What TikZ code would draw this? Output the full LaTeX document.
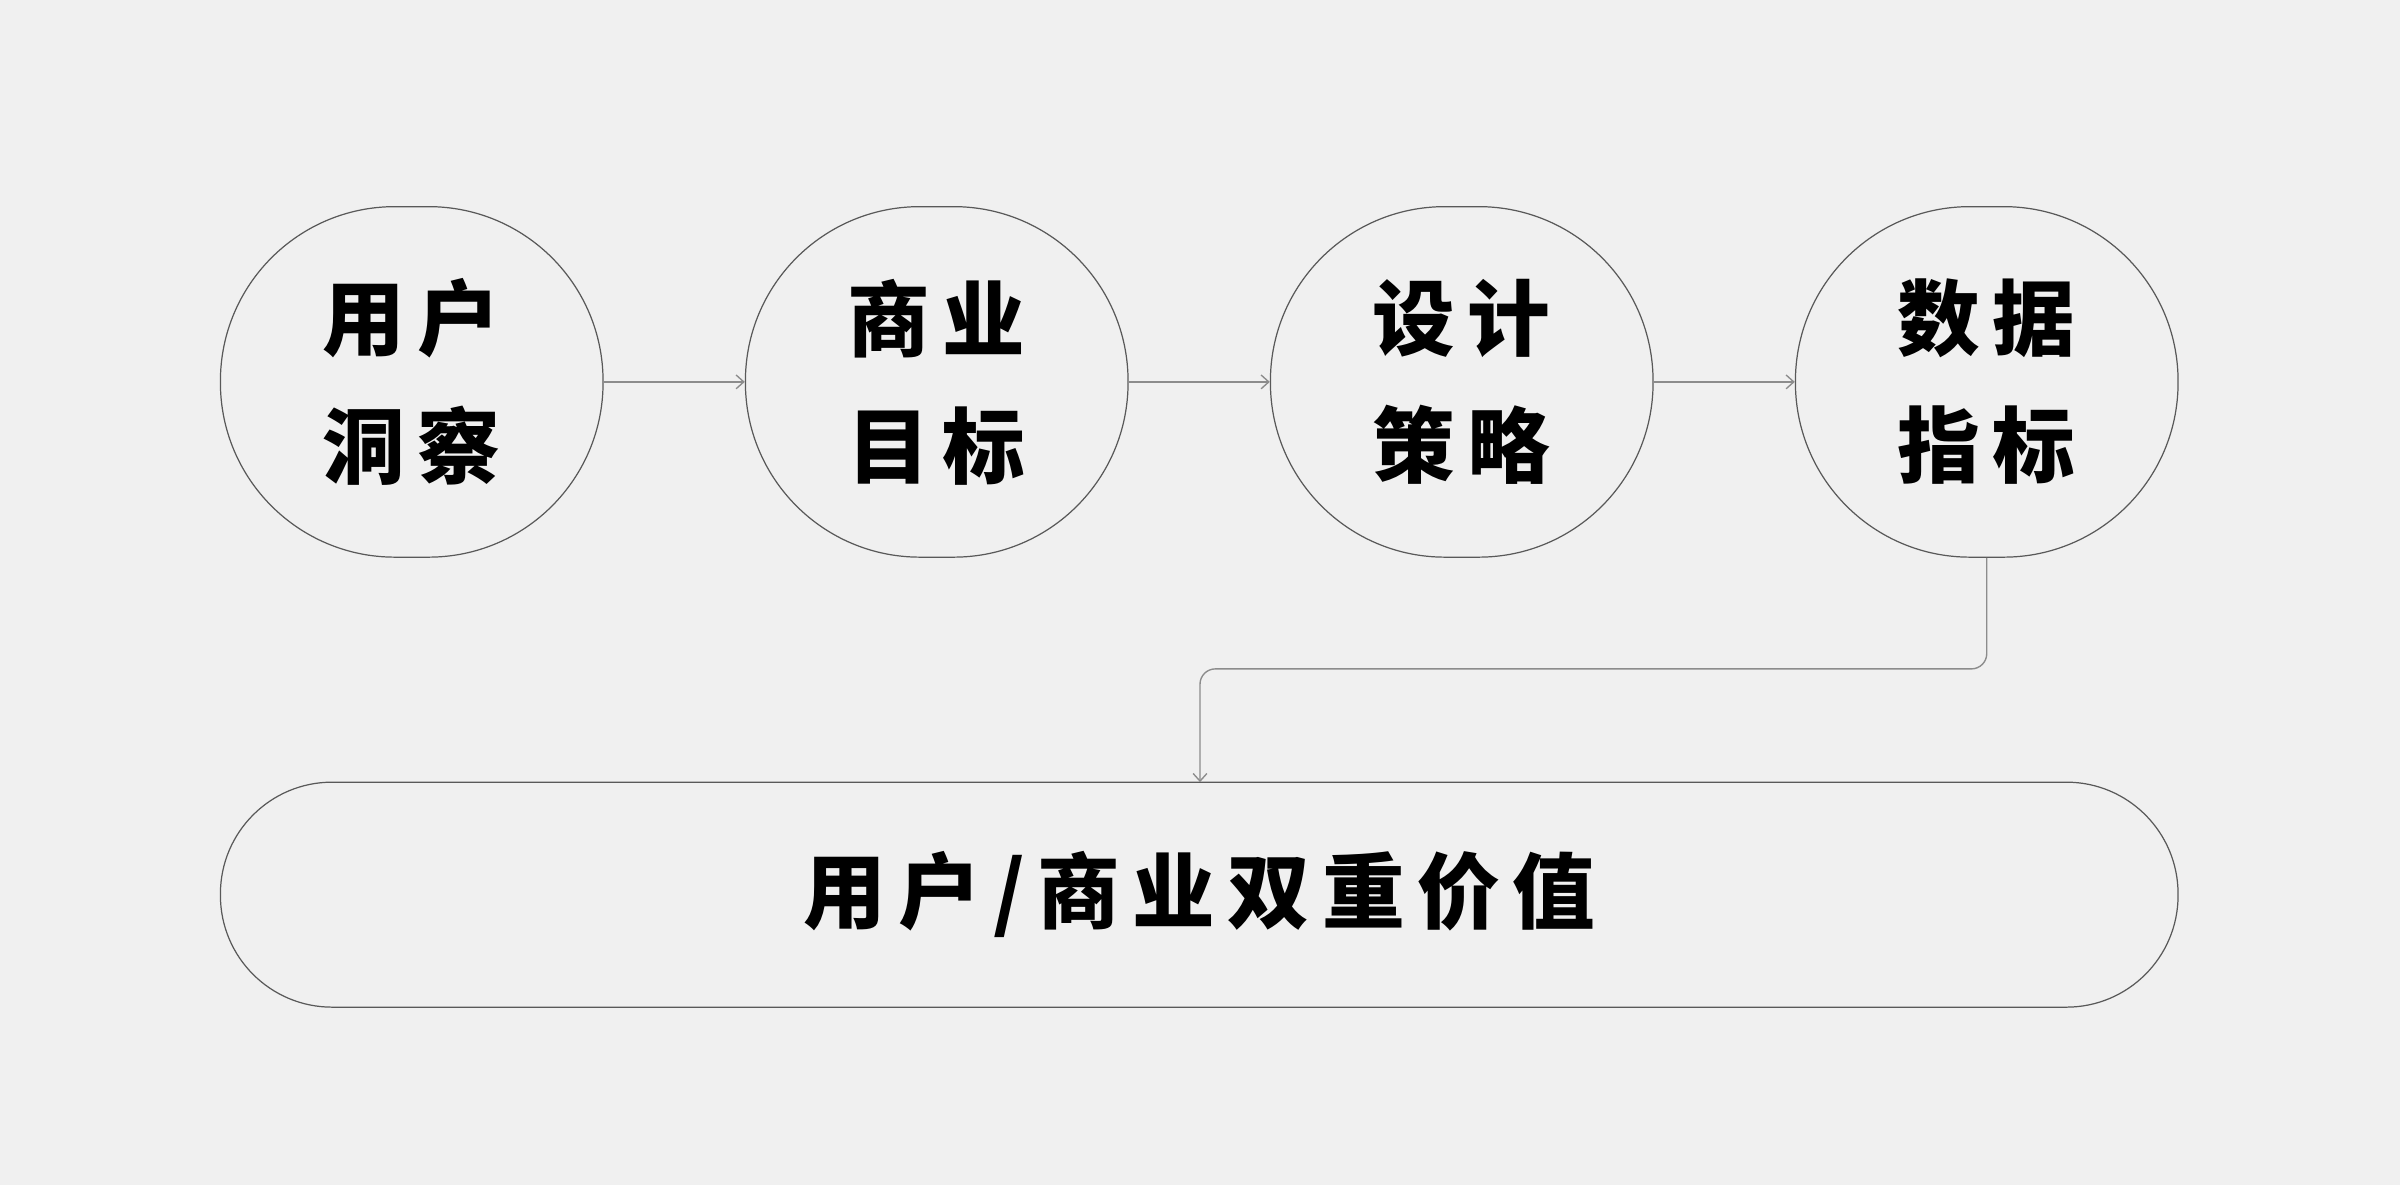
\documentclass[tikz,border=0pt]{standalone}
\usepackage{fontspec}
\newfontfamily\cjk{Noto Sans CJK SC}
\usetikzlibrary{arrows.meta}
\begin{document}
\begin{tikzpicture}[x=1pt,y=-1pt,
  stage/.style={draw=black!65,line width=0.8pt,minimum width=250pt,minimum height=229pt,rounded corners=114pt,inner sep=0pt,align=center,font=\cjk\bfseries\fontsize{54pt}{83pt}\selectfont},
  result/.style={draw=black!65,line width=0.8pt,minimum width=1279pt,minimum height=147pt,rounded corners=73pt,inner sep=0pt,font=\cjk\bfseries\fontsize{54pt}{60pt}\selectfont},
  flow/.style={draw=black!45,line width=0.9pt,-{Straight Barb[length=5pt,width=9pt]}}]
\fill[fill={rgb,255:red,240;green,240;blue,240}] (0,0) rectangle (1568,774);
\useasboundingbox (0,0) rectangle (1568,774);
\node[stage] (a) at (269,249.5) {用\hspace{8pt}户\\洞\hspace{8pt}察};
\node[stage] (b) at (612,249.5) {商\hspace{8pt}业\\目\hspace{8pt}标};
\node[stage] (c) at (955,249.5) {设\hspace{8pt}计\\策\hspace{8pt}略};
\node[stage] (d) at (1298,249.5) {数\hspace{8pt}据\\指\hspace{8pt}标};
\node[result] (e) at (783.5,584.5) {用\hspace{8pt}户\hspace{8pt}/\hspace{8pt}商\hspace{8pt}业\hspace{8pt}双\hspace{8pt}重\hspace{8pt}价\hspace{8pt}值};
\draw[flow] (a.east) -- (b.west);
\draw[flow] (b.east) -- (c.west);
\draw[flow] (c.east) -- (d.west);
\coordinate (m1) at (1298,437);
\coordinate (m2) at (784,437);
\draw[flow,rounded corners=10pt] (d.south) -- (m1) -- (m2) -- (784,511);
\end{tikzpicture}
\end{document}
